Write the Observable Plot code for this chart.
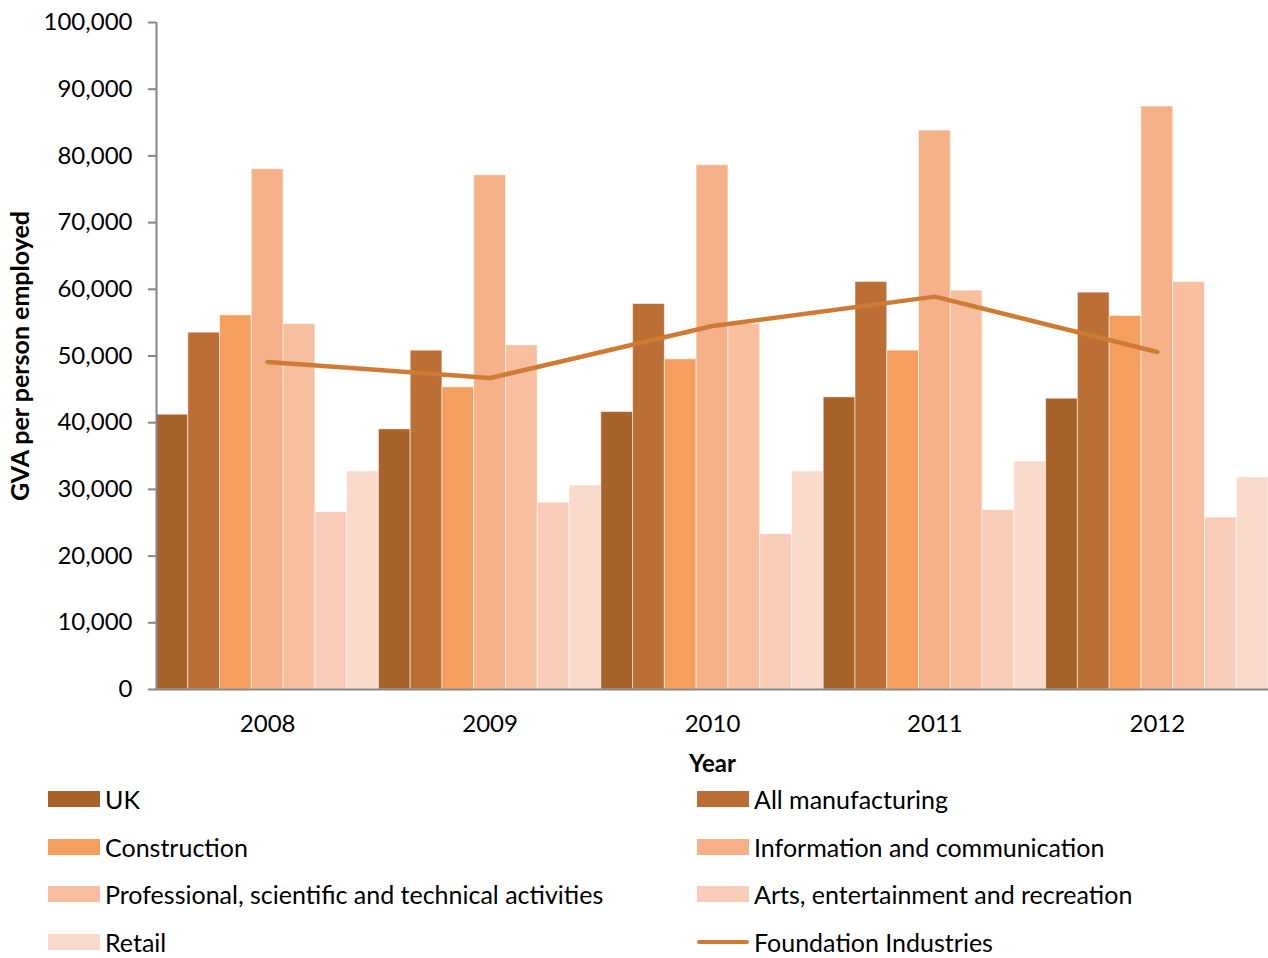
<!DOCTYPE html>
<html>
<head>
<meta charset="utf-8">
<script src="https://cdn.jsdelivr.net/npm/d3@7"></script>
<script src="https://cdn.jsdelivr.net/npm/@observablehq/plot@0.6"></script>
<style>
  html, body { margin: 0; padding: 0; background: #fff; }
  body { width: 1268px; height: 958px; position: relative; overflow: hidden; font-family: Lato, sans-serif; }
  #chart svg { display: block; }
  [aria-label="y-axis label"], [aria-label="x-axis label"] { font-weight: bold; }
  [aria-label="y-axis label"] { font-size: 25px; }
  #legend { position: absolute; left: 0; top: 780px; width: 1268px; height: 178px; }
  .item { position: absolute; display: flex; align-items: center; height: 20px; line-height: 20px; font-size: 25px; color: #000; white-space: nowrap; }
  .sw { width: 52px; height: 16px; margin-right: 5px; flex: none; }
  .ln { width: 52px; height: 4px; border-radius: 2px; margin-right: 5px; flex: none; }
</style>
</head>
<body>
<div id="chart"></div>
<div id="legend"></div>
<script>
const years = [2008, 2009, 2010, 2011, 2012];
const seriesNames = [
  "UK",
  "All manufacturing",
  "Construction",
  "Information and communication",
  "Professional, scientific and technical activities",
  "Arts, entertainment and recreation",
  "Retail"
];
const seriesColors = ["#a8632b", "#bb6f34", "#f59f5f", "#f6b189", "#f8bf9f", "#f9ccb7", "#fadacb"];
const uk = [41200, 39000, 41600, 43800, 43600];
const allManufacturing = [53500, 50800, 57800, 61100, 59500];
const construction = [56100, 45300, 49500, 50800, 56000];
const informationCommunication = [78000, 77100, 78600, 83800, 87400];
const professional = [54800, 51600, 54800, 59800, 61100];
const arts = [26600, 28000, 23300, 26900, 25800];
const retail = [32700, 30600, 32700, 34200, 31800];
const lineName = "Foundation Industries";
const lineColor = "#d07b35";
const foundation = [49100, 46700, 54500, 58900, 50600];
const yTicks = [0, 10000, 20000, 30000, 40000, 50000, 60000, 70000, 80000, 90000, 100000];

const seriesValues = [uk, allManufacturing, construction, informationCommunication, professional, arts, retail];
const nSeries = seriesNames.length;
const bars = years.flatMap((year, j) =>
  seriesNames.map((name, i) => ({year, series: name, index: i, value: seriesValues[i][j]}))
);
const lineData = years.map((year, j) => ({year, value: foundation[j]}));
const xDomain = [years[0] - 0.5, years[years.length - 1] + 0.5];

const chart = Plot.plot({
  width: 1268,
  height: 780,
  marginTop: 22,
  marginBottom: 91,
  marginLeft: 156,
  marginRight: 0,
  style: {fontFamily: "Lato, sans-serif", fontSize: "24px", color: "#000", background: "#fff"},
  x: {domain: xDomain, axis: null},
  y: {domain: [0, 100000], axis: null},
  color: {domain: seriesNames, range: seriesColors},
  marks: [
    Plot.rectY(bars, {
      x1: d => d.year - 0.5 + d.index / nSeries,
      x2: d => d.year - 0.5 + (d.index + 1) / nSeries,
      y: "value",
      fill: "series",
      stroke: "#ffffff",
      strokeOpacity: 0.55,
      strokeWidth: 1
    }),
    Plot.axisY({
      ticks: yTicks,
      tickFormat: d3.format(","),
      tickSize: 8,
      tickPadding: 16,
      stroke: "#868686",
      strokeWidth: 2,
      fontSize: 24,
      label: "GVA per person employed",
      labelArrow: false,
      labelAnchor: "center",
      labelOffset: 145
    }),
    Plot.axisX({
      ticks: years,
      tickFormat: d3.format("d"),
      tickSize: 0,
      tickPadding: 25,
      fontSize: 24,
      label: "Year",
      labelArrow: false,
      labelAnchor: "center",
      labelOffset: 82
    }),
    Plot.ruleX([xDomain[0]], {stroke: "#868686", strokeWidth: 2}),
    Plot.ruleY([0], {stroke: "#868686", strokeWidth: 2}),
    Plot.lineY(lineData, {x: "year", y: "value", stroke: lineColor, strokeWidth: 4.5, strokeLinecap: "round", strokeLinejoin: "miter"})
  ]
});
document.getElementById("chart").appendChild(chart);

// Remove an automatic arrow if this Plot version adds one regardless
chart.querySelectorAll('[aria-label="y-axis label"] text, [aria-label="x-axis label"] text').forEach(t => {
  t.textContent = t.textContent.replace(/\s*[←↑→↓]\s*/g, "").trim();
});

// Legend (HTML, below the SVG)
const legend = document.getElementById("legend");
const legendItems = seriesNames.map((name, i) => ({name, color: seriesColors[i], type: "bar"}))
  .concat([{name: lineName, color: lineColor, type: "line"}]);
legendItems.forEach((item, k) => {
  const col = k % 2, row = Math.floor(k / 2);
  const div = document.createElement("div");
  div.className = "item";
  div.style.left = (col === 0 ? 48 : 697) + "px";
  div.style.top = (9 + row * 47.7) + "px";
  const sw = document.createElement("span");
  sw.className = item.type === "bar" ? "sw" : "ln";
  sw.style.background = item.color;
  const tx = document.createElement("span");
  tx.textContent = item.name;
  div.appendChild(sw);
  div.appendChild(tx);
  legend.appendChild(div);
});
</script>
</body>
</html>
